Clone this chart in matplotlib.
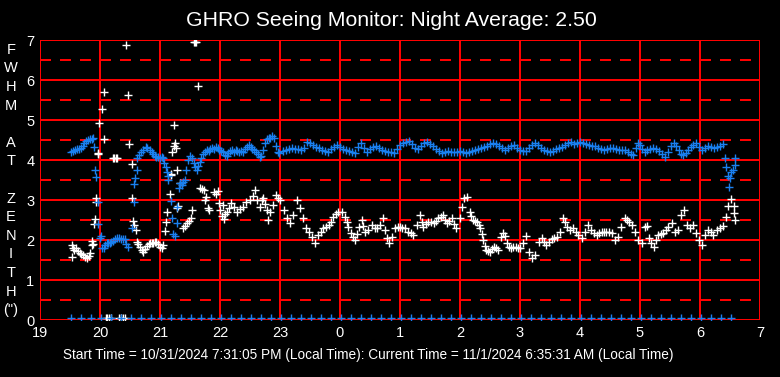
import matplotlib
matplotlib.use("Agg")
import matplotlib.pyplot as plt

plt.rcParams["font.family"] = ["Liberation Sans", "DejaVu Sans"]
plt.rcParams["lines.scale_dashes"] = False

# hours after 19:00 are written past 24 (0h -> 24, 6h -> 30)
blue_x = [19.52, 19.55, 19.58, 19.62, 19.65, 19.68, 19.71, 19.74, 19.77, 19.8, 19.83, 19.86, 19.89,
          19.9, 19.92, 19.94, 19.96, 19.97, 20.0, 20.01,
          20.04, 20.06, 20.09, 20.11, 20.14, 20.17, 20.19, 20.22, 20.25, 20.28, 20.31, 20.35, 20.38,
          20.41, 20.44, 20.47,
          20.53, 20.56, 20.57, 20.58, 20.61,
          20.62, 20.65, 20.69, 20.72, 20.76, 20.79, 20.83, 20.86, 20.89, 20.92, 20.94, 20.97, 21.0,
          21.03, 21.05, 21.07, 21.1, 21.12, 21.13, 21.14, 21.18, 21.2, 21.22, 21.25, 21.28, 21.28,
          21.31, 21.33, 21.36, 21.39, 21.42, 21.44, 21.47, 21.5, 21.53, 21.56, 21.58, 21.61, 21.63,
          21.66, 21.69, 21.72, 21.75, 21.78, 21.81, 21.84, 21.87, 21.9, 21.93, 21.96, 21.99, 22.02,
          22.05, 22.08, 22.11, 22.14, 22.17, 22.2, 22.23, 22.26, 22.29, 22.32, 22.35, 22.39, 22.42,
          22.45, 22.48, 22.51, 22.54, 22.57, 22.6, 22.63, 22.66, 22.69, 22.72, 22.75, 22.78, 22.81,
          22.84, 22.87, 22.9, 22.93, 22.96, 22.99,
          23.05, 23.1, 23.15, 23.2, 23.25, 23.3, 23.35, 23.4, 23.45, 23.5, 23.55, 23.6, 23.65, 23.7,
          23.75, 23.8, 23.85, 23.9, 23.95, 24.0, 24.05, 24.1, 24.15, 24.2, 24.25, 24.3, 24.35, 24.4,
          24.45, 24.5, 24.55, 24.6, 24.65, 24.7, 24.75, 24.8, 24.85, 24.9, 24.95, 25.0, 25.05, 25.1,
          25.15, 25.2, 25.25, 25.3, 25.35, 25.4, 25.45, 25.5, 25.55, 25.6, 25.65, 25.7, 25.75, 25.8,
          25.85, 25.9, 25.95, 26.0, 26.05, 26.1, 26.15, 26.2, 26.25, 26.3, 26.35, 26.4, 26.45, 26.5,
          26.55, 26.6, 26.65, 26.7, 26.75, 26.8, 26.85, 26.9, 26.95, 27.0, 27.05, 27.1, 27.15, 27.2,
          27.25, 27.3, 27.35, 27.4, 27.45, 27.5, 27.55, 27.6, 27.65, 27.7, 27.75, 27.8, 27.85, 27.9,
          27.95, 28.0, 28.05, 28.1, 28.15, 28.2, 28.25, 28.3, 28.35, 28.4, 28.45, 28.5, 28.55, 28.6,
          28.65, 28.7, 28.75, 28.8, 28.85, 28.89, 28.93, 28.97, 29.0, 29.04, 29.08, 29.12, 29.17,
          29.22, 29.27, 29.32, 29.37, 29.42, 29.46, 29.51, 29.56, 29.6, 29.65, 29.69, 29.72, 29.76,
          29.8, 29.85, 29.89, 29.93, 29.98, 30.03, 30.08, 30.14, 30.19, 30.24, 30.28, 30.33, 30.39,
          30.42, 30.44, 30.47, 30.49, 30.5, 30.52, 30.55, 30.58, 30.59]
blue_y = [4.2, 4.22, 4.25, 4.27, 4.28, 4.3, 4.35, 4.42, 4.47, 4.5, 4.52, 4.53, 4.55,
          4.32, 3.75, 3.57, 2.94, 2.4, 2.04, 2.1,
          1.8, 1.79, 1.88, 1.92, 1.92, 1.93, 1.95, 1.98, 2.02, 2.04, 2.04, 2.02, 2.02,
          2.02, 1.9, 1.82,
          2.29, 2.94, 3.39, 3.54, 3.75,
          4.05, 4.12, 4.2, 4.26, 4.32, 4.3, 4.25, 4.2, 4.15, 4.1, 4.08, 4.07, 4.05,
          4.08, 4.05, 3.93, 3.83, 3.71, 3.6, 3.5, 2.98, 2.54, 2.15, 2.1, 2.42, 2.83,
          3.29, 3.42, 3.38, 3.45, 3.5, 3.75, 4.0, 4.1, 4.05, 3.92, 3.82, 3.75, 3.85,
          3.95, 4.05, 4.15, 4.2, 4.25, 4.22, 4.28, 4.3, 4.27, 4.33, 4.3, 4.25, 4.22,
          4.2, 4.12, 4.1, 4.18, 4.22, 4.25, 4.2, 4.25, 4.22, 4.2, 4.23, 4.21, 4.28,
          4.33, 4.37, 4.32, 4.27, 4.25, 4.2, 4.15, 4.08, 4.1, 4.25, 4.42, 4.52, 4.56,
          4.55, 4.6, 4.55, 4.35, 4.2, 4.18,
          4.22, 4.25, 4.27, 4.3, 4.28, 4.27, 4.25, 4.3, 4.45, 4.42, 4.37, 4.33, 4.3, 4.26,
          4.22, 4.21, 4.28, 4.33, 4.37, 4.33, 4.28, 4.25, 4.23, 4.2, 4.18, 4.33, 4.42, 4.3,
          4.21, 4.27, 4.33, 4.35, 4.3, 4.25, 4.22, 4.21, 4.19, 4.18, 4.28, 4.37, 4.42, 4.45,
          4.48, 4.4, 4.3, 4.28, 4.35, 4.43, 4.45, 4.4, 4.34, 4.28, 4.22, 4.18, 4.2, 4.22,
          4.2, 4.21, 4.2, 4.22, 4.19, 4.17, 4.2, 4.23, 4.25, 4.28, 4.3, 4.33, 4.36, 4.4,
          4.42, 4.4, 4.35, 4.3, 4.25, 4.3, 4.35, 4.37, 4.3, 4.26, 4.22, 4.23, 4.3, 4.38,
          4.42, 4.37, 4.3, 4.26, 4.23, 4.21, 4.22, 4.28, 4.3, 4.33, 4.38, 4.43, 4.46, 4.4,
          4.43, 4.44, 4.42, 4.4, 4.37, 4.35, 4.34, 4.3, 4.27, 4.25, 4.27, 4.29, 4.29, 4.27,
          4.26, 4.25, 4.25, 4.2, 4.15, 4.12, 4.3, 4.43, 4.38, 4.28, 4.21, 4.24, 4.28,
          4.29, 4.28, 4.22, 4.15, 4.08, 4.2, 4.35, 4.43, 4.35, 4.25, 4.15, 4.12, 4.18,
          4.25, 4.32, 4.38, 4.42, 4.32, 4.25, 4.3, 4.35, 4.33, 4.31, 4.32, 4.36, 4.4,
          4.04, 3.83, 3.6, 3.33, 3.55, 3.7, 3.75, 3.87, 4.04]

white_x = [19.53, 19.55, 19.57, 19.54, 19.6, 19.63, 19.66, 19.69, 19.72, 19.75, 19.78, 19.81,
           19.83, 19.86, 19.87, 19.88, 19.9, 19.91, 19.93, 19.94, 19.96, 19.97, 19.99, 20.03,
           20.06, 20.07, 20.22, 20.24, 20.26, 20.28, 20.44, 20.46, 20.49, 20.53, 20.54, 20.55,
           20.57, 20.6, 20.61, 20.64, 20.67, 20.7, 20.72, 20.75, 20.78, 20.81, 20.83, 20.86,
           20.89, 20.92, 20.94, 20.97, 21.0, 21.03, 21.05, 21.08, 21.1, 21.12, 21.16, 21.18,
           21.19, 21.2, 21.24, 21.25, 21.23, 21.27, 21.29, 21.29, 21.3, 21.33, 21.39, 21.42,
           21.45, 21.48, 21.52, 21.54, 21.56, 21.58, 21.6, 21.64, 21.67, 21.7, 21.73, 21.75,
           21.77, 21.8, 21.82, 21.9, 21.93, 21.96, 21.98, 22.0, 22.03, 22.05, 22.06, 22.08,
           22.11, 22.15, 22.19, 22.23, 22.28, 22.33, 22.39, 22.44, 22.5, 22.55, 22.58, 22.62,
           22.67, 22.7, 22.72, 22.75, 22.78, 22.8, 22.84, 22.89, 22.94, 22.97, 23.0,
           23.06, 23.11, 23.17, 23.22, 23.28, 23.33, 23.39, 23.44, 23.48, 23.53, 23.58, 23.64,
           23.68, 23.72, 23.77, 23.81, 23.85, 23.89, 23.93, 23.97, 24.03, 24.08, 24.11, 24.14,
           24.19, 24.22, 24.25, 24.28, 24.31, 24.36, 24.39, 24.42, 24.47, 24.53, 24.58, 24.62,
           24.67, 24.71, 24.75, 24.78, 24.81, 24.86, 24.92, 24.96, 25.0, 25.04, 25.08, 25.14,
           25.18, 25.22, 25.28, 25.33, 25.36, 25.39, 25.43, 25.47, 25.51, 25.56, 25.6, 25.64,
           25.68, 25.71, 25.75, 25.78, 25.82, 25.86, 25.9, 25.94, 26.0, 26.03, 26.07, 26.11,
           26.16, 26.19, 26.22, 26.25, 26.28, 26.31, 26.33, 26.36, 26.39, 26.42, 26.44, 26.47,
           26.5, 26.53, 26.56, 26.6, 26.64, 26.69, 26.72, 26.75, 26.78, 26.81, 26.85, 26.89,
           26.93, 26.97, 27.0, 27.05, 27.1, 27.15, 27.2, 27.25, 27.31, 27.36, 27.4, 27.44,
           27.49, 27.53, 27.57, 27.61, 27.67, 27.72, 27.75, 27.78, 27.83, 27.89, 27.93, 27.97,
           28.03, 28.08, 28.14, 28.19, 28.23, 28.28, 28.32, 28.36, 28.4, 28.44, 28.49, 28.53,
           28.58, 28.64, 28.69, 28.75, 28.78, 28.81, 28.86, 28.92, 28.97, 29.03, 29.08, 29.11,
           29.15, 29.19, 29.23, 29.26, 29.3, 29.35, 29.39, 29.43, 29.47, 29.53, 29.58, 29.64,
           29.69, 29.73, 29.78, 29.83, 29.89, 29.94, 29.99, 30.04, 30.08, 30.14, 30.18, 30.22,
           30.28, 30.33, 30.39, 30.43, 30.47, 30.52, 30.56, 30.57, 30.59]
white_y = [1.87, 1.8, 1.75, 1.58, 1.79, 1.72, 1.67, 1.65, 1.62, 1.58, 1.54, 1.6,
           1.67, 1.875, 1.98, 1.89, 2.4, 2.52, 2.96, 3.04, 4.18, 4.15, 4.92, 5.27,
           4.52, 5.69, 4.04, 4.05, 4.04, 4.05, 6.87, 5.62, 4.39, 3.89, 3.04, 2.48,
           2.38, 2.25, 1.96, 1.9, 1.82, 1.75, 1.71, 1.78, 1.85, 1.9, 1.93, 1.92,
           1.92, 1.95, 1.96, 1.9, 1.83, 1.8, 1.87, 2.23, 2.44, 2.71, 3.14, 3.65,
           3.625, 4.19, 4.87, 4.42, 4.36, 4.3, 3.75, 2.8, 2.85, 3.42, 2.29, 2.35,
           2.42, 2.48, 2.54, 2.75, 6.95, 6.94, 6.95, 5.85, 3.3, 3.28, 3.25, 3.0,
           3.08, 2.79, 2.75, 3.2, 3.15, 3.22, 2.92, 2.75, 2.6, 2.875, 2.52, 2.65,
           2.71, 2.8, 2.92, 2.82, 2.71, 2.78, 2.83, 2.96, 3.0, 3.1, 3.25, 3.0,
           2.82, 3.0, 3.04, 2.9, 2.75, 2.5, 2.7, 2.875, 3.125, 3.05, 3.0,
           2.75, 2.54, 2.42, 2.62, 3.0, 2.79, 2.54, 2.29, 2.2, 2.08, 1.92, 2.125,
           2.2, 2.29, 2.33, 2.375, 2.45, 2.58, 2.65, 2.71, 2.71, 2.58, 2.45, 2.33,
           2.17, 2.08, 2.0, 2.15, 2.33, 2.5, 2.35, 2.21, 2.25, 2.375, 2.29, 2.3,
           2.375, 2.54, 2.25, 2.05, 1.92, 2.08, 2.29, 2.33, 2.33, 2.3, 2.29, 2.21,
           2.17, 2.125, 2.375, 2.625, 2.45, 2.33, 2.4, 2.46, 2.44, 2.42, 2.48, 2.54,
           2.58, 2.625, 2.5, 2.42, 2.48, 2.54, 2.4, 2.29, 2.54, 2.83, 3.04, 3.08,
           2.71, 2.6, 2.5, 2.48, 2.46, 2.38, 2.29, 2.15, 2.0, 1.85, 1.75, 1.72,
           1.71, 1.78, 1.83, 1.8, 1.75, 2.08, 2.17, 2.1, 1.92, 1.83, 1.8, 1.83,
           1.82, 1.79, 1.79, 1.92, 2.1, 1.71, 1.54, 1.625, 1.96, 2.04, 1.95, 1.875,
           1.95, 2.02, 2.05, 2.08, 2.21, 2.54, 2.45, 2.33, 2.25, 2.29, 2.2, 2.125,
           2.04, 2.21, 2.375, 2.25, 2.18, 2.125, 2.17, 2.21, 2.2, 2.21, 2.19, 2.17,
           2.0, 2.08, 2.33, 2.54, 2.5, 2.46, 2.375, 2.21, 2.0, 1.92, 2.33, 2.35,
           2.05, 1.92, 1.83, 2.0, 2.125, 2.15, 2.17, 2.25, 2.33, 2.42, 2.21, 2.25,
           2.625, 2.75, 2.375, 2.29, 2.375, 2.17, 2.0, 1.875, 2.125, 2.25, 2.2, 2.125,
           2.25, 2.29, 2.35, 2.58, 2.85, 3.02, 2.85, 2.67, 2.5]

# zero readings along the bottom
white_zero_x = [20.1, 20.12, 20.15, 20.18, 20.32, 20.35, 20.38, 20.41]
blue_zero_times = ["19:31", "19:41", "19:51", "20:01", "20:11", "20:21", "20:31", "20:41", "20:51",
                   "21:01", "21:11", "21:21", "21:31", "21:41", "21:51", "22:01", "22:11", "22:21",
                   "22:31", "22:41", "22:51", "23:01", "23:11", "23:21", "23:31", "23:41", "23:51",
                   "0:01", "0:11", "0:21", "0:31", "0:41", "0:51", "1:01", "1:11", "1:21", "1:31",
                   "1:41", "1:51", "2:01", "2:11", "2:21", "2:31", "2:41", "2:51", "3:01", "3:11",
                   "3:21", "3:31", "3:41", "3:51", "4:01", "4:11", "4:21", "4:31", "4:41", "4:51",
                   "5:01", "5:11", "5:21", "5:31", "5:41", "5:51", "6:01", "6:11", "6:21", "6:31"]
zero_level = 0.05

x_ticks = [19, 20, 21, 22, 23, 24, 25, 26, 27, 28, 29, 30, 31]
x_labels = ["19", "20", "21", "22", "23", "0", "1", "2", "3", "4", "5", "6", "7"]
y_label_chars = ["F", "W", "H", "M", "", "A", "T", "", "Z", "E", "N", "I", "T", "H", "(\")"]
title = "GHRO Seeing Monitor: Night Average: 2.50"
footer = ("Start Time = 10/31/2024 7:31:05 PM (Local Time): "
          "Current Time = 11/1/2024 6:35:31 AM (Local Time)")


def to_hours(t):
    h, m = t.split(":")
    h = int(h)
    if h < 12:
        h += 24
    return h + int(m) / 60


blue_zero_x = [to_hours(t) for t in blue_zero_times]

fig = plt.figure(figsize=(7.8, 3.77), dpi=100, facecolor="black")
ax = fig.add_axes([40 / 780, 57 / 377, 720 / 780, 280 / 377], facecolor="black")

red = "#ff0000"
for xv in x_ticks:
    ax.axvline(xv, color=red, lw=1.1, zorder=1, antialiased=False)
for yv in range(8):
    ax.axhline(yv, color=red, lw=1.1, zorder=1, antialiased=False)
for yv in [0.5, 1.5, 2.5, 3.5, 4.5, 5.5, 6.5]:
    ax.axhline(yv, color=red, lw=1.1, ls=(0, (7.9, 6.5)), zorder=1, antialiased=False)

mk = dict(marker="+", ls="none", ms=5.5, mew=1.0, zorder=3, antialiased=False)
ax.plot(white_x, white_y, color="white", **mk)
ax.plot(white_zero_x, [zero_level] * len(white_zero_x), color="white", **mk)
ax.plot(blue_x, blue_y, color="#1a80f0", **mk)
ax.plot(blue_zero_x, [zero_level] * len(blue_zero_x), color="#1a80f0", **mk)

ax.set_xlim(19, 31)
ax.set_ylim(0, 7)
ax.set_xticks(x_ticks)
ax.set_xticklabels(x_labels)
ax.set_yticks(range(8))
ax.tick_params(length=0, colors="white", labelsize=10.5, pad=4)
for s in ax.spines.values():
    s.set_visible(False)

fig.text(0.502, 1 - 20 / 377, title, color="white", fontsize=15.3, ha="center", va="center")
fig.text(11 / 780, 1 - 180 / 377, "\n".join(y_label_chars), color="white", fontsize=10.5,
         ha="center", va="center", linespacing=1.42)
fig.text(368 / 780, 1 - 355 / 377, footer, color="white", fontsize=9.8, ha="center", va="center")

fig.savefig("out.png", dpi=100, facecolor="black")
